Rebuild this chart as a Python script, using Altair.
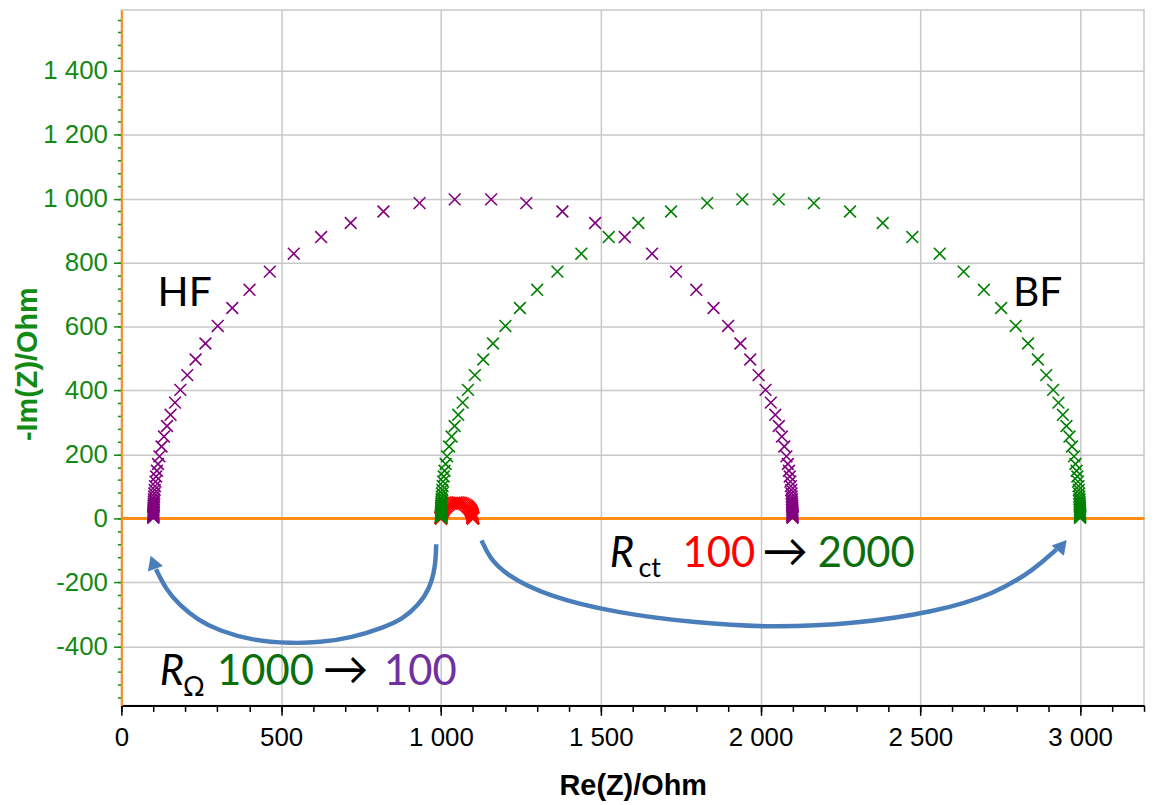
import altair as alt
import pandas as pd

# ---------------- data ----------------
# Purple series: R_Omega = 100, R_ct = 2000
purple_re = [100.0, 100.0, 100.0, 100.0, 100.1, 100.1, 100.1, 100.2, 100.2, 100.3, 100.4, 100.6, 100.8, 101.0,
             101.4, 101.8, 102.3, 103.0, 104.0, 105.1, 106.6, 108.6, 111.1, 114.6, 119.0, 125.6, 133.3, 142.7,
             153.9, 167.8, 184.4, 206.0, 232.2, 262.9, 301.5, 347.0, 401.0, 464.4, 539.3, 625.0, 717.6, 820.0,
             933.0, 1043.0,
             1157.0, 1267.0, 1380.0, 1482.4, 1575.0, 1660.7, 1735.6, 1799.0, 1853.0, 1898.5, 1937.1, 1967.8,
             1994.0, 2015.6, 2032.2, 2046.1, 2057.3, 2066.7, 2074.4, 2081.0, 2085.4, 2088.9, 2091.4, 2093.4,
             2094.9, 2096.0, 2097.0, 2097.7, 2098.2, 2098.6, 2099.0, 2099.2, 2099.4, 2099.6, 2099.7, 2099.8,
             2099.8, 2099.9, 2099.9, 2099.9, 2100.0, 2100.0, 2100.0, 2100.0]
purple_im = [2, 4, 6, 8, 10, 12, 15, 18, 21, 25, 29, 34, 39, 45, 52, 60, 68, 78, 89, 101, 115, 131, 149, 170,
             194, 225, 256, 289, 324, 362, 402, 448, 497, 547, 602, 658, 715, 772, 828, 880, 924, 960, 986, 998,
             998, 986, 960, 924, 880, 828, 772, 715, 658, 602, 547, 497, 448, 402, 362, 324, 289, 256, 225, 194,
             170, 149, 131, 115, 101, 89, 78, 68, 60, 52, 45, 39, 34, 29, 25, 21, 18, 15, 12, 10, 8, 6, 4, 2]

# Green series: R_Omega = 1000, R_ct = 2000
green_re = [1000.0, 1000.0, 1000.0, 1000.0, 1000.1, 1000.1, 1000.1, 1000.2, 1000.2, 1000.3, 1000.4, 1000.6,
            1000.8, 1001.0, 1001.4, 1001.8, 1002.3, 1003.0, 1004.0, 1005.1, 1006.6, 1008.6, 1011.1, 1014.6,
            1019.0, 1025.6, 1033.3, 1042.7, 1053.9, 1067.8, 1084.4, 1106.0, 1132.2, 1162.9, 1201.5, 1247.0,
            1301.0, 1364.4, 1439.3, 1525.0, 1617.6, 1720.0, 1833.0, 1943.0,
            2057.0, 2167.0, 2280.0, 2382.4, 2475.0, 2560.7, 2635.6, 2699.0, 2753.0, 2798.5, 2837.1, 2867.8,
            2894.0, 2915.6, 2932.2, 2946.1, 2957.3, 2966.7, 2974.4, 2981.0, 2985.4, 2988.9, 2991.4, 2993.4,
            2994.9, 2996.0, 2997.0, 2997.7, 2998.2, 2998.6, 2999.0, 2999.2, 2999.4, 2999.6, 2999.7, 2999.8,
            2999.8, 2999.9, 2999.9, 2999.9, 3000.0, 3000.0, 3000.0, 3000.0]
green_im = [2, 4, 6, 8, 10, 12, 15, 18, 21, 25, 29, 34, 39, 45, 52, 60, 68, 78, 89, 101, 115, 131, 149, 170,
            194, 225, 256, 289, 324, 362, 402, 448, 497, 547, 602, 658, 715, 772, 828, 880, 924, 960, 986, 998,
            998, 986, 960, 924, 880, 828, 772, 715, 658, 602, 547, 497, 448, 402, 362, 324, 289, 256, 225, 194,
            170, 149, 131, 115, 101, 89, 78, 68, 60, 52, 45, 39, 34, 29, 25, 21, 18, 15, 12, 10, 8, 6, 4, 2]

# Red series: R_Omega = 1000, R_ct = 100
red_re = [1000.0, 1000.0, 1000.0, 1000.0, 1000.0, 1000.0, 1000.0, 1000.0, 1000.0, 1000.0, 1000.0, 1000.0,
          1000.0, 1000.1, 1000.1, 1000.1, 1000.1, 1000.2, 1000.2, 1000.3, 1000.3, 1000.4, 1000.6, 1000.7,
          1001.0, 1001.3, 1001.7, 1002.1, 1002.7, 1003.4, 1004.2, 1005.3, 1006.6, 1008.1, 1010.1, 1012.4,
          1015.1, 1018.2, 1022.0, 1026.3, 1030.9, 1036.0, 1041.7, 1047.2,
          1052.8, 1058.3, 1064.0, 1069.1, 1073.7, 1078.0, 1081.8, 1084.9, 1087.6, 1089.9, 1091.9, 1093.4,
          1094.7, 1095.8, 1096.6, 1097.3, 1097.9, 1098.3, 1098.7, 1099.0, 1099.3, 1099.4, 1099.6, 1099.7,
          1099.7, 1099.8, 1099.8, 1099.9, 1099.9, 1099.9, 1099.9, 1100.0, 1100.0, 1100.0, 1100.0, 1100.0,
          1100.0, 1100.0, 1100.0, 1100.0, 1100.0, 1100.0, 1100.0, 1100.0]
red_im = [0.1, 0.2, 0.3, 0.4, 0.5, 0.6, 0.75, 0.9, 1.05, 1.25, 1.45, 1.7, 1.95, 2.25, 2.6, 3.0, 3.4, 3.9,
          4.45, 5.05, 5.75, 6.55, 7.45, 8.5, 9.7, 11.25, 12.8, 14.45, 16.2, 18.1, 20.1, 22.4, 24.85, 27.35,
          30.1, 32.9, 35.75, 38.6, 41.4, 44.0, 46.2, 48.0, 49.3, 49.9,
          49.9, 49.3, 48.0, 46.2, 44.0, 41.4, 38.6, 35.75, 32.9, 30.1, 27.35, 24.85, 22.4, 20.1, 18.1, 16.2,
          14.45, 12.8, 11.25, 9.7, 8.5, 7.45, 6.55, 5.75, 5.05, 4.45, 3.9, 3.4, 3.0, 2.6, 2.25, 1.95, 1.7,
          1.45, 1.25, 1.05, 0.9, 0.75, 0.6, 0.5, 0.4, 0.3, 0.2, 0.1]

series_names = ["red", "purple", "green"]
series_colors = ["#FF0000", "#800080", "#008000"]

x_ticks = [0, 500, 1000, 1500, 2000, 2500, 3000]
x_minor = list(range(0, 3201, 100))
y_ticks = [-400, -200, 0, 200, 400, 600, 800, 1000, 1200, 1400]
y_minor = list(range(-560, 1561, 40))

# annotation arrows (data units)
arrow1_re = [985, 983, 965, 928, 880, 824, 720, 620, 533, 409, 305, 240, 180, 139, 108]
arrow1_im = [-81, -150, -220, -273, -315, -340, -374, -388, -391, -382, -351, -318, -270, -221, -159]
arrow2_re = [1127, 1150, 1200, 1332, 1550, 1799, 2033, 2297, 2546, 2733, 2858, 2926]
arrow2_im = [-69, -120, -175, -243, -296, -327, -342, -330, -293, -237, -159, -97]
head_re = [99, 2944]
head_im = [-137, -84]
head_angle = [340, 40]

# ---------------- tables ----------------
pts = pd.concat([
    pd.DataFrame({"re": red_re, "im": red_im, "series": "red"}),
    pd.DataFrame({"re": purple_re, "im": purple_im, "series": "purple"}),
    pd.DataFrame({"re": green_re, "im": green_im, "series": "green"}),
], ignore_index=True)

arrows = pd.concat([
    pd.DataFrame({"re": arrow1_re, "im": arrow1_im, "arrow": "a1", "i": range(len(arrow1_re))}),
    pd.DataFrame({"re": arrow2_re, "im": arrow2_im, "arrow": "a2", "i": range(len(arrow2_re))}),
], ignore_index=True)

heads = pd.DataFrame({"re": head_re, "im": head_im, "angle": head_angle})

DKGREEN = "#0B6E0B"
PURPLE_T = "#7030A0"
texts = pd.DataFrame({
    "re": [113, 2790, 299, 630, 822, 193, 1756, 2005, 2179, 1618],
    "im": [664, 664, -522, -522, -522, -557, -152, -152, -152, -184],
    "text": ["HF", "BF", "1000", "→", "100", "Ω", "100", "→", "2000", "ct"],
    "color": ["black", "black", DKGREEN, "black", PURPLE_T, "black", "#FF0000", "black", DKGREEN, "black"],
    "size": [41, 41, 42, 46, 42, 27, 42, 46, 42, 27],
})
italic = pd.DataFrame({"re": [120, 1528], "im": [-522, -152], "text": ["R", "R"]})

# ---------------- chart ----------------
W, H = 1028, 699
xs = alt.Scale(domain=[0, 3200], nice=False, zero=False)
ys = alt.Scale(domain=[-585, 1590], nice=False, zero=False)
GREEN_AX = "#138A13"
ORANGE = "#FF8C1A"
GRID = "#C8C8C8"
FONT = "Liberation Sans"
label_fmt = "(datum.value < 0 ? '-' : '') + replace(format(abs(datum.value), ','), ',', ' ')"

x_axis = alt.Axis(orient="bottom", values=x_ticks, labelExpr=label_fmt, title="Re(Z)/Ohm", titleFont=FONT,
                  titleFontSize=29, titleFontWeight="bold", titleColor="black", titleBaseline="alphabetic",
                  titleX=W / 2, titleY=90, titleAlign="center",
                  labelFont=FONT, labelFontSize=26, labelColor="black", labelBaseline="alphabetic",
                  labelPadding=30, labelFlush=False, labelOverlap=False,
                  tickSize=10, tickColor="black", tickWidth=1.5,
                  domainColor="black", domainWidth=2, grid=True, gridColor=GRID, gridWidth=1.5)
y_axis = alt.Axis(orient="left", values=y_ticks, labelExpr=label_fmt, title="-Im(Z)/Ohm", titleFont=FONT,
                  titleFontSize=29, titleFontWeight="bold", titleColor=GREEN_AX, titleAngle=270,
                  titleX=-94, titleY=H / 2 + 6, titleAlign="center", titleBaseline="middle",
                  labelFont=FONT, labelFontSize=26, labelColor=GREEN_AX, labelPadding=6,
                  labelFlush=False, labelOverlap=False,
                  tickSize=8, tickColor=GREEN_AX, tickWidth=1.5,
                  domainColor=ORANGE, domainWidth=2, grid=True, gridColor=GRID, gridWidth=1.5)
x_minor_axis = alt.Axis(values=x_minor, labels=False, ticks=True, tickSize=6, tickColor="black",
                        tickWidth=1.5, domain=False, grid=False, title=None, orient="bottom")
y_minor_axis = alt.Axis(values=y_minor, labels=False, ticks=True, tickSize=4, tickColor=GREEN_AX,
                        tickWidth=1.5, domain=False, grid=False, title=None, orient="left")

zero = alt.Chart(pts).mark_rule(color=ORANGE, strokeWidth=2).encode(
    y=alt.YDatum(0, scale=ys, axis=y_minor_axis),
)

minor = alt.Chart(pts).mark_point(opacity=0).encode(
    x=alt.X("re:Q", scale=xs, axis=x_minor_axis),
    y=alt.Y("im:Q", scale=ys, axis=None),
)

points = alt.Chart(pts).mark_point(
    shape="M-1,-1L1,1M-1,1L1,-1", filled=False, size=140, strokeWidth=1.6, opacity=1
).encode(
    x=alt.X("re:Q", scale=xs, axis=x_axis),
    y=alt.Y("im:Q", scale=ys, axis=y_axis),
    color=alt.Color("series:N", scale=alt.Scale(domain=series_names, range=series_colors), legend=None),
)

arrow_lines = alt.Chart(arrows).mark_line(
    color="#4A7EBB", strokeWidth=4.5, interpolate="basis", strokeCap="butt"
).encode(
    x=alt.X("re:Q", scale=xs, axis=None),
    y=alt.Y("im:Q", scale=ys, axis=None),
    detail="arrow:N",
    order="i:Q",
)

arrow_heads = alt.Chart(heads).mark_point(
    shape="triangle-up", filled=True, size=260, color="#4A7EBB", opacity=1
).encode(
    x=alt.X("re:Q", scale=xs, axis=None),
    y=alt.Y("im:Q", scale=ys, axis=None),
    angle=alt.Angle("angle:Q", scale=None),
)

text_layer = alt.Chart(texts).mark_text(
    font="Lato, DejaVu Sans", align="left", baseline="alphabetic"
).encode(
    x=alt.X("re:Q", scale=xs, axis=None),
    y=alt.Y("im:Q", scale=ys, axis=None),
    text="text:N",
    color=alt.Color("color:N", scale=None),
    size=alt.Size("size:Q", scale=None),
)

italic_layer = alt.Chart(italic).mark_text(
    font="Lato, DejaVu Sans", fontStyle="italic", align="left", baseline="alphabetic", fontSize=42,
    color="black"
).encode(
    x=alt.X("re:Q", scale=xs, axis=None),
    y=alt.Y("im:Q", scale=ys, axis=None),
    text="text:N",
)

chart = alt.layer(
    zero, minor, points, arrow_lines, arrow_heads, text_layer, italic_layer
).resolve_axis(
    x="independent", y="independent"
).properties(
    width=W, height=H,
    autosize=alt.AutoSizeParams(type="none"),
    padding={"left": 114, "top": 0, "right": 3, "bottom": 95},
    background="white",
).configure_view(stroke=GRID, strokeWidth=1.5)

chart.save("out.html", embed_options={"renderer": "svg", "actions": False})
